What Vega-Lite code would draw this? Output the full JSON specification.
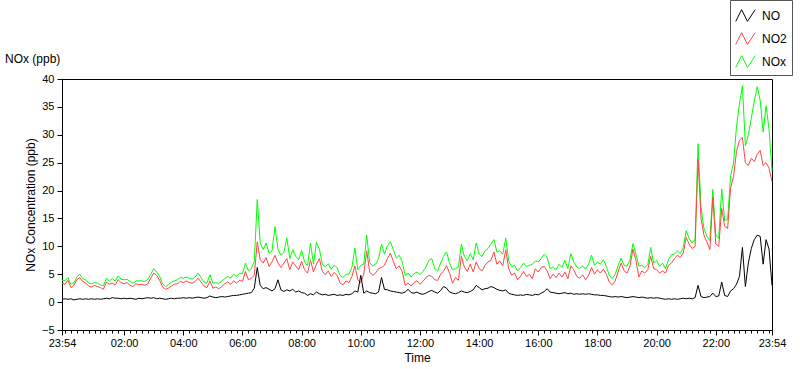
{
  "$schema": "https://vega.github.io/schema/vega-lite/v6.json",
  "width": 710,
  "height": 251,
  "autosize": {"type": "none"},
  "padding": {"left": 62, "top": 79, "right": 28, "bottom": 39},
  "background": "white",
  "title": {"text": "NOx (ppb)", "anchor": "start", "frame": "group", "dx": -57, "offset": -66, "fontSize": 12, "fontWeight": "normal", "font": "Liberation Sans", "color": "#000000"},
  "data": {"values": [
    {"t":0,"NO":0.5,"NO2":3.4,"NOx":3.9},{"t":6,"NO":0.6,"NO2":3.2,"NOx":3.8},{"t":12,"NO":0.5,"NO2":3.9,"NOx":4.4},{"t":18,"NO":0.6,"NO2":2.6,"NOx":3.2},{"t":24,"NO":0.4,"NO2":3.0,"NOx":3.4},{"t":30,"NO":0.5,"NO2":4.0,"NOx":4.5},{"t":36,"NO":0.6,"NO2":4.4,"NOx":5.0},{"t":42,"NO":0.5,"NO2":3.7,"NOx":4.2},{"t":48,"NO":0.6,"NO2":3.4,"NOx":4.0},{"t":54,"NO":0.5,"NO2":2.9,"NOx":3.4},
    {"t":60,"NO":0.6,"NO2":2.7,"NOx":3.3},{"t":66,"NO":0.5,"NO2":3.0,"NOx":3.5},{"t":72,"NO":0.6,"NO2":2.8,"NOx":3.4},{"t":78,"NO":0.5,"NO2":2.6,"NOx":3.1},{"t":84,"NO":0.6,"NO2":2.3,"NOx":2.9},{"t":90,"NO":0.7,"NO2":3.6,"NOx":4.3},{"t":96,"NO":0.6,"NO2":3.2,"NOx":3.8},{"t":102,"NO":0.8,"NO2":3.4,"NOx":4.2},{"t":108,"NO":0.7,"NO2":3.1,"NOx":3.8},{"t":114,"NO":0.7,"NO2":4.0,"NOx":4.7},
    {"t":120,"NO":0.6,"NO2":3.5,"NOx":4.1},{"t":126,"NO":0.7,"NO2":3.3,"NOx":4.0},{"t":132,"NO":0.6,"NO2":3.5,"NOx":4.1},{"t":138,"NO":0.7,"NO2":3.0,"NOx":3.7},{"t":144,"NO":0.6,"NO2":2.8,"NOx":3.4},{"t":150,"NO":0.5,"NO2":3.3,"NOx":3.8},{"t":156,"NO":0.7,"NO2":3.1,"NOx":3.8},{"t":162,"NO":0.6,"NO2":3.2,"NOx":3.8},{"t":168,"NO":0.7,"NO2":3.0,"NOx":3.7},{"t":174,"NO":0.8,"NO2":3.3,"NOx":4.1},
    {"t":180,"NO":0.7,"NO2":4.3,"NOx":5.0},{"t":186,"NO":0.8,"NO2":5.2,"NOx":6.0},{"t":192,"NO":0.6,"NO2":4.8,"NOx":5.4},{"t":198,"NO":0.7,"NO2":3.9,"NOx":4.6},{"t":204,"NO":0.6,"NO2":2.7,"NOx":3.3},{"t":210,"NO":0.5,"NO2":2.3,"NOx":2.8},{"t":216,"NO":0.6,"NO2":2.5,"NOx":3.1},{"t":222,"NO":0.7,"NO2":2.9,"NOx":3.6},{"t":228,"NO":0.6,"NO2":3.2,"NOx":3.8},{"t":234,"NO":0.7,"NO2":3.3,"NOx":4.0},
    {"t":240,"NO":0.7,"NO2":3.7,"NOx":4.4},{"t":246,"NO":0.8,"NO2":3.5,"NOx":4.3},{"t":252,"NO":0.7,"NO2":3.8,"NOx":4.5},{"t":258,"NO":0.8,"NO2":3.5,"NOx":4.3},{"t":264,"NO":0.7,"NO2":3.4,"NOx":4.1},{"t":270,"NO":0.8,"NO2":3.7,"NOx":4.5},{"t":276,"NO":0.9,"NO2":4.3,"NOx":5.2},{"t":282,"NO":0.8,"NO2":3.6,"NOx":4.4},{"t":288,"NO":0.7,"NO2":2.9,"NOx":3.6},{"t":294,"NO":0.8,"NO2":2.6,"NOx":3.4},
    {"t":300,"NO":1.1,"NO2":3.8,"NOx":4.9},{"t":306,"NO":0.9,"NO2":2.5,"NOx":3.4},{"t":312,"NO":0.8,"NO2":2.7,"NOx":3.5},{"t":318,"NO":0.9,"NO2":2.4,"NOx":3.3},{"t":324,"NO":1.0,"NO2":2.8,"NOx":3.8},{"t":330,"NO":0.9,"NO2":3.3,"NOx":4.2},{"t":336,"NO":1.0,"NO2":3.6,"NOx":4.6},{"t":342,"NO":1.1,"NO2":3.2,"NOx":4.3},{"t":348,"NO":1.2,"NO2":3.8,"NOx":5.0},{"t":354,"NO":1.2,"NO2":3.4,"NOx":4.6},
    {"t":360,"NO":1.3,"NO2":3.9,"NOx":5.2},{"t":366,"NO":1.4,"NO2":3.7,"NOx":5.1},{"t":372,"NO":1.5,"NO2":5.5,"NOx":7.0},{"t":378,"NO":1.6,"NO2":4.0,"NOx":5.6},{"t":384,"NO":1.7,"NO2":4.3,"NOx":6.0},{"t":390,"NO":2.5,"NO2":4.8,"NOx":7.3},{"t":396,"NO":6.2,"NO2":10.8,"NOx":18.4},{"t":402,"NO":3.0,"NO2":7.6,"NOx":10.6},{"t":408,"NO":2.4,"NO2":7.0,"NOx":9.4},{"t":414,"NO":2.6,"NO2":8.0,"NOx":10.6},
    {"t":420,"NO":2.3,"NO2":6.4,"NOx":8.7},{"t":426,"NO":2.0,"NO2":7.2,"NOx":9.2},{"t":432,"NO":2.4,"NO2":8.4,"NOx":13.5},{"t":438,"NO":4.0,"NO2":7.0,"NOx":9.5},{"t":444,"NO":2.2,"NO2":6.2,"NOx":8.4},{"t":450,"NO":1.9,"NO2":7.0,"NOx":8.9},{"t":456,"NO":2.2,"NO2":7.8,"NOx":11.5},{"t":462,"NO":2.0,"NO2":5.8,"NOx":7.8},{"t":468,"NO":2.3,"NO2":7.2,"NOx":9.4},{"t":474,"NO":1.8,"NO2":6.5,"NOx":8.2},
    {"t":480,"NO":2.0,"NO2":5.8,"NOx":7.6},{"t":486,"NO":1.7,"NO2":7.3,"NOx":9.3},{"t":492,"NO":1.6,"NO2":5.8,"NOx":7.2},{"t":498,"NO":1.2,"NO2":5.2,"NOx":6.5},{"t":504,"NO":1.5,"NO2":7.5,"NOx":10.6},{"t":510,"NO":1.3,"NO2":5.4,"NOx":6.8},{"t":516,"NO":1.8,"NO2":6.8,"NOx":10.7},{"t":522,"NO":1.5,"NO2":7.8,"NOx":9.5},{"t":528,"NO":1.3,"NO2":5.5,"NOx":6.8},{"t":534,"NO":1.4,"NO2":4.9,"NOx":6.3},
    {"t":540,"NO":1.2,"NO2":5.6,"NOx":6.9},{"t":546,"NO":1.3,"NO2":4.6,"NOx":5.9},{"t":552,"NO":1.4,"NO2":5.3,"NOx":6.6},{"t":558,"NO":1.2,"NO2":4.8,"NOx":6.2},{"t":564,"NO":1.3,"NO2":3.4,"NOx":4.8},{"t":570,"NO":1.2,"NO2":3.1,"NOx":4.4},{"t":576,"NO":1.4,"NO2":3.8,"NOx":5.0},{"t":582,"NO":1.3,"NO2":3.5,"NOx":5.0},{"t":588,"NO":1.5,"NO2":4.6,"NOx":6.2},{"t":594,"NO":2.0,"NO2":6.5,"NOx":9.7},
    {"t":600,"NO":1.8,"NO2":4.0,"NOx":5.8},{"t":606,"NO":4.8,"NO2":3.5,"NOx":6.6},{"t":612,"NO":1.6,"NO2":5.0,"NOx":6.8},{"t":618,"NO":2.0,"NO2":9.2,"NOx":12.0},{"t":624,"NO":1.7,"NO2":5.4,"NOx":7.1},{"t":630,"NO":1.6,"NO2":4.8,"NOx":6.5},{"t":636,"NO":1.5,"NO2":5.2,"NOx":6.8},{"t":642,"NO":1.8,"NO2":6.0,"NOx":7.8},{"t":648,"NO":4.4,"NO2":6.2,"NOx":10.4},{"t":654,"NO":2.3,"NO2":6.6,"NOx":8.6},
    {"t":660,"NO":2.2,"NO2":7.8,"NOx":10.1},{"t":666,"NO":2.0,"NO2":8.8,"NOx":10.8},{"t":672,"NO":1.9,"NO2":7.3,"NOx":9.4},{"t":678,"NO":1.8,"NO2":6.0,"NOx":7.9},{"t":684,"NO":1.7,"NO2":6.5,"NOx":8.4},{"t":690,"NO":1.6,"NO2":5.5,"NOx":7.2},{"t":696,"NO":1.8,"NO2":3.0,"NOx":4.8},{"t":702,"NO":2.3,"NO2":3.4,"NOx":5.2},{"t":708,"NO":1.7,"NO2":2.9,"NOx":4.5},{"t":714,"NO":1.6,"NO2":3.5,"NOx":5.1},
    {"t":720,"NO":1.8,"NO2":3.8,"NOx":5.4},{"t":726,"NO":1.5,"NO2":3.2,"NOx":4.9},{"t":732,"NO":1.4,"NO2":3.7,"NOx":5.5},{"t":738,"NO":1.6,"NO2":4.4,"NOx":6.3},{"t":744,"NO":1.9,"NO2":4.8,"NOx":7.5},{"t":750,"NO":2.1,"NO2":4.6,"NOx":7.8},{"t":756,"NO":1.8,"NO2":4.0,"NOx":6.0},{"t":762,"NO":1.6,"NO2":3.9,"NOx":5.6},{"t":768,"NO":2.1,"NO2":5.0,"NOx":7.0},{"t":774,"NO":2.8,"NO2":5.6,"NOx":8.2},
    {"t":780,"NO":2.5,"NO2":6.5,"NOx":9.0},{"t":786,"NO":1.8,"NO2":5.2,"NOx":7.0},{"t":792,"NO":1.6,"NO2":3.4,"NOx":5.8},{"t":798,"NO":1.5,"NO2":4.4,"NOx":6.0},{"t":804,"NO":1.7,"NO2":3.9,"NOx":6.3},{"t":810,"NO":2.0,"NO2":8.2,"NOx":10.4},{"t":816,"NO":1.8,"NO2":6.3,"NOx":8.2},{"t":822,"NO":1.7,"NO2":5.5,"NOx":7.4},{"t":828,"NO":1.9,"NO2":6.8,"NOx":8.7},{"t":834,"NO":2.2,"NO2":5.4,"NOx":7.6},
    {"t":840,"NO":3.0,"NO2":7.2,"NOx":10.6},{"t":846,"NO":2.6,"NO2":6.0,"NOx":8.6},{"t":852,"NO":2.2,"NO2":5.6,"NOx":8.2},{"t":858,"NO":2.4,"NO2":6.6,"NOx":9.2},{"t":864,"NO":2.5,"NO2":7.2,"NOx":9.6},{"t":870,"NO":2.8,"NO2":7.5,"NOx":10.4},{"t":876,"NO":2.6,"NO2":9.0,"NOx":11.2},{"t":882,"NO":2.3,"NO2":6.8,"NOx":9.0},{"t":888,"NO":2.1,"NO2":7.4,"NOx":9.2},{"t":894,"NO":2.0,"NO2":6.5,"NOx":8.6},
    {"t":900,"NO":2.2,"NO2":9.4,"NOx":11.5},{"t":906,"NO":1.6,"NO2":6.0,"NOx":7.4},{"t":912,"NO":1.4,"NO2":4.8,"NOx":6.3},{"t":918,"NO":1.3,"NO2":5.2,"NOx":6.6},{"t":924,"NO":1.2,"NO2":4.0,"NOx":5.6},{"t":930,"NO":1.3,"NO2":4.6,"NOx":6.2},{"t":936,"NO":1.2,"NO2":5.5,"NOx":7.0},{"t":942,"NO":1.4,"NO2":4.6,"NOx":6.4},{"t":948,"NO":1.3,"NO2":5.0,"NOx":6.6},{"t":954,"NO":1.2,"NO2":4.2,"NOx":6.8},
    {"t":960,"NO":1.4,"NO2":6.0,"NOx":7.4},{"t":966,"NO":1.3,"NO2":5.4,"NOx":7.2},{"t":972,"NO":1.6,"NO2":6.2,"NOx":7.8},{"t":978,"NO":1.9,"NO2":6.4,"NOx":8.6},{"t":984,"NO":2.4,"NO2":5.6,"NOx":8.0},{"t":990,"NO":1.8,"NO2":4.2,"NOx":6.0},{"t":996,"NO":1.7,"NO2":5.0,"NOx":6.3},{"t":1002,"NO":1.6,"NO2":4.4,"NOx":5.8},{"t":1008,"NO":1.5,"NO2":5.2,"NOx":6.8},{"t":1014,"NO":1.6,"NO2":4.5,"NOx":6.2},
    {"t":1020,"NO":1.7,"NO2":5.4,"NOx":7.5},{"t":1026,"NO":1.5,"NO2":4.2,"NOx":6.0},{"t":1032,"NO":1.6,"NO2":6.5,"NOx":8.7},{"t":1038,"NO":1.4,"NO2":5.8,"NOx":7.2},{"t":1044,"NO":1.5,"NO2":4.6,"NOx":6.3},{"t":1050,"NO":1.4,"NO2":4.3,"NOx":6.0},{"t":1056,"NO":1.5,"NO2":4.9,"NOx":6.5},{"t":1062,"NO":1.4,"NO2":4.0,"NOx":5.9},{"t":1068,"NO":1.5,"NO2":4.8,"NOx":6.8},{"t":1074,"NO":1.4,"NO2":6.2,"NOx":8.4},
    {"t":1080,"NO":1.3,"NO2":5.0,"NOx":6.6},{"t":1086,"NO":1.3,"NO2":5.8,"NOx":7.2},{"t":1092,"NO":1.2,"NO2":5.2,"NOx":6.8},{"t":1098,"NO":1.2,"NO2":5.9,"NOx":7.6},{"t":1104,"NO":1.1,"NO2":5.0,"NOx":6.4},{"t":1110,"NO":1.0,"NO2":3.6,"NOx":4.8},{"t":1116,"NO":0.9,"NO2":3.1,"NOx":4.2},{"t":1122,"NO":1.0,"NO2":3.8,"NOx":5.0},{"t":1128,"NO":0.9,"NO2":5.5,"NOx":6.6},{"t":1134,"NO":1.0,"NO2":7.0,"NOx":7.9},
    {"t":1140,"NO":0.9,"NO2":5.6,"NOx":6.6},{"t":1146,"NO":0.8,"NO2":5.2,"NOx":6.4},{"t":1152,"NO":0.9,"NO2":6.5,"NOx":7.6},{"t":1158,"NO":1.0,"NO2":9.5,"NOx":10.5},{"t":1164,"NO":0.9,"NO2":7.5,"NOx":8.6},{"t":1170,"NO":0.8,"NO2":4.5,"NOx":6.5},{"t":1176,"NO":0.9,"NO2":5.6,"NOx":6.6},{"t":1182,"NO":0.8,"NO2":5.2,"NOx":6.2},{"t":1188,"NO":0.7,"NO2":5.8,"NOx":6.7},{"t":1194,"NO":0.8,"NO2":8.2,"NOx":9.8},
    {"t":1200,"NO":0.7,"NO2":6.0,"NOx":7.0},{"t":1206,"NO":0.8,"NO2":5.8,"NOx":7.5},{"t":1212,"NO":0.7,"NO2":5.2,"NOx":6.4},{"t":1218,"NO":0.6,"NO2":5.6,"NOx":7.0},{"t":1224,"NO":0.5,"NO2":5.2,"NOx":6.0},{"t":1230,"NO":0.6,"NO2":6.6,"NOx":7.6},{"t":1236,"NO":0.5,"NO2":7.0,"NOx":8.5},{"t":1242,"NO":0.6,"NO2":7.8,"NOx":8.6},{"t":1248,"NO":0.5,"NO2":8.4,"NOx":9.2},{"t":1254,"NO":0.6,"NO2":8.0,"NOx":8.7},
    {"t":1260,"NO":0.7,"NO2":8.8,"NOx":9.8},{"t":1266,"NO":0.6,"NO2":11.6,"NOx":12.8},{"t":1272,"NO":0.7,"NO2":10.4,"NOx":11.4},{"t":1278,"NO":0.6,"NO2":9.6,"NOx":10.6},{"t":1284,"NO":0.8,"NO2":10.0,"NOx":11.2},{"t":1290,"NO":3.0,"NO2":25.6,"NOx":28.4},{"t":1296,"NO":1.0,"NO2":15.0,"NOx":17.0},{"t":1302,"NO":0.8,"NO2":12.0,"NOx":13.2},{"t":1308,"NO":0.9,"NO2":10.8,"NOx":11.8},{"t":1314,"NO":1.0,"NO2":9.4,"NOx":11.0},
    {"t":1320,"NO":1.6,"NO2":18.8,"NOx":20.2},{"t":1326,"NO":1.0,"NO2":10.4,"NOx":12.0},{"t":1332,"NO":1.1,"NO2":10.0,"NOx":11.4},{"t":1338,"NO":3.6,"NO2":16.8,"NOx":20.3},{"t":1344,"NO":1.2,"NO2":13.6,"NOx":14.6},{"t":1350,"NO":1.0,"NO2":13.2,"NOx":14.8},{"t":1356,"NO":2.0,"NO2":20.5,"NOx":22.6},{"t":1362,"NO":2.4,"NO2":22.5,"NOx":25.0},{"t":1368,"NO":3.2,"NO2":27.0,"NOx":31.5},{"t":1374,"NO":4.6,"NO2":29.0,"NOx":35.5},
    {"t":1380,"NO":9.8,"NO2":29.5,"NOx":38.8},{"t":1386,"NO":2.8,"NO2":25.0,"NOx":28.0},{"t":1392,"NO":7.0,"NO2":24.5,"NOx":30.0},{"t":1398,"NO":9.6,"NO2":25.8,"NOx":33.0},{"t":1404,"NO":11.2,"NO2":25.2,"NOx":36.0},{"t":1410,"NO":12.0,"NO2":26.5,"NOx":38.6},{"t":1416,"NO":11.8,"NO2":27.2,"NOx":36.2},{"t":1422,"NO":6.8,"NO2":24.5,"NOx":30.5},{"t":1428,"NO":11.2,"NO2":25.0,"NOx":35.2},{"t":1434,"NO":9.5,"NO2":24.0,"NOx":31.0},
    {"t":1440,"NO":3.0,"NO2":21.6,"NOx":23.5}
  ]},
  "transform": [{"fold": ["NOx", "NO2", "NO"], "as": ["series", "ppb"]}],
  "mark": {"type": "line", "strokeWidth": 1},
  "encoding": {
    "x": {
      "field": "t", "type": "quantitative",
      "scale": {"domain": [0, 1440], "nice": false, "zero": false},
      "axis": {
        "title": "Time",
        "values": [0,6,18,30,42,54,66,78,90,102,114,126,138,150,162,174,186,198,210,222,234,246,258,270,282,294,306,318,330,342,354,366,378,390,402,414,426,438,450,462,474,486,498,510,522,534,546,558,570,582,594,606,618,630,642,654,666,678,690,702,714,726,738,750,762,774,786,798,810,822,834,846,858,870,882,894,906,918,930,942,954,966,978,990,1002,1014,1026,1038,1050,1062,1074,1086,1098,1110,1122,1134,1146,1158,1170,1182,1194,1206,1218,1230,1242,1254,1266,1278,1290,1302,1314,1326,1338,1350,1362,1374,1386,1398,1410,1422,1434,1440],
        "labelExpr": "(datum.value == 0 || datum.value == 1440 || (datum.value > 6 && (datum.value - 6) % 120 == 0)) ? utcFormat((datum.value + 1434) * 60000, '%H:%M') : ''",
        "tickSize": {"condition": {"test": "datum.value == 0 || datum.value == 1440 || (datum.value > 6 && (datum.value - 6) % 120 == 0)", "value": 5}, "value": 3},
        "labelOverlap": false,
        "labelFlush": false,
        "labelPadding": 2,
        "titlePadding": 4,
        "grid": false
      }
    },
    "y": {
      "field": "ppb", "type": "quantitative",
      "scale": {"domain": [-5, 40], "nice": false, "zero": false},
      "axis": {"title": "NOx Concentration (ppb)", "values": [-5,0,5,10,15,20,25,30,35,40], "tickSize": 5, "labelPadding": 3, "titlePadding": 4, "grid": false}
    },
    "color": {
      "field": "series", "type": "nominal",
      "scale": {"domain": ["NO", "NO2", "NOx"], "range": ["#000000", "#FF4444", "#00FF00"]},
      "legend": {
        "orient": "none", "legendX": 668, "legendY": -79, "title": null,
        "strokeColor": "#555555", "fillColor": "white", "padding": 5,
        "labelFont": "Liberation Sans", "labelFontSize": 12, "labelColor": "#000000",
        "symbolType": "M-1,0.6L-0.4,-0.6L0.2,0.6L1,-0.6", "symbolSize": 380, "symbolStrokeWidth": 1,
        "rowPadding": 4, "labelOffset": 6
      }
    }
  },
  "config": {
    "view": {"stroke": "#000000", "strokeWidth": 1},
    "axis": {
      "domainColor": "#000000", "tickColor": "#000000", "labelColor": "#000000",
      "labelFont": "Liberation Sans", "labelFontSize": 11,
      "titleFont": "Liberation Sans", "titleFontSize": 12, "titleFontWeight": "normal", "titleColor": "#000000"
    }
  }
}
